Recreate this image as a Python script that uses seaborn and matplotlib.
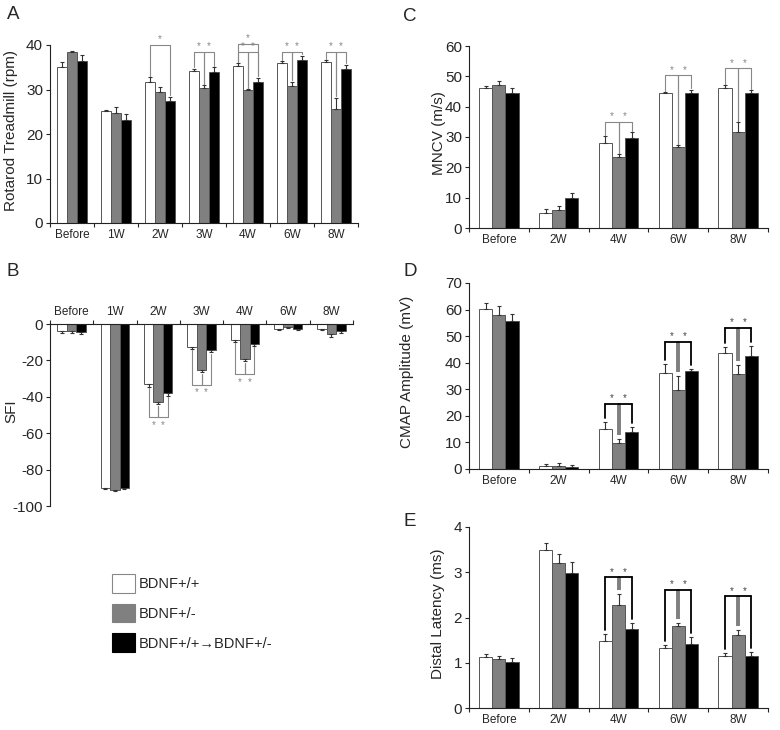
import pandas as pd
import seaborn as sns
import matplotlib.pyplot as plt
from matplotlib.patches import Patch

sns.set_style("ticks")
plt.rcParams["font.family"] = ["Liberation Sans", "DejaVu Sans"]
plt.rcParams["axes.unicode_minus"] = False

groups = ["BDNF+/+", "BDNF+/-", "BDNF+/+\u2192BDNF+/-"]
colors = ["white", "#808080", "black"]

# A - rotarod treadmill (rpm)
times_a = ["Before", "1W", "2W", "3W", "4W", "6W", "8W"]
rota_wt = [35.1, 25.1, 31.7, 34.1, 35.3, 35.9, 36.1]
rota_het = [38.4, 24.8, 29.4, 30.4, 29.8, 30.7, 25.7]
rota_tr = [36.4, 23.2, 27.4, 34.0, 31.6, 36.6, 34.6]
rota_wt_err = [1.0, 0.3, 1.1, 0.6, 0.6, 0.5, 0.5]
rota_het_err = [0.2, 1.3, 1.2, 0.5, 0.3, 1.0, 2.5]
rota_tr_err = [1.4, 1.2, 1.0, 1.0, 1.0, 1.0, 1.0]
sig_a = [("2W", 0, 2, 40.0), ("3W", 0, 1, 38.5), ("3W", 1, 2, 38.5),
         ("4W", 0, 1, 38.5), ("4W", 1, 2, 38.5), ("4W", 0, 2, 40.3),
         ("6W", 0, 1, 38.5), ("6W", 1, 2, 38.5),
         ("8W", 0, 1, 38.5), ("8W", 1, 2, 38.5)]

# B - sciatic functional index
sfi_wt = [-4.0, -90.0, -33.1, -12.5, -8.8, -2.5, -2.5]
sfi_het = [-4.0, -91.0, -42.7, -25.4, -19.5, -1.5, -5.5]
sfi_tr = [-4.5, -90.0, -37.8, -14.4, -10.9, -2.5, -4.0]
sfi_wt_err = [1.0, 0.8, 1.5, 1.0, 1.0, 0.8, 1.0]
sfi_het_err = [1.0, 0.8, 1.5, 1.0, 1.0, 0.8, 1.5]
sfi_tr_err = [1.0, 0.8, 1.5, 1.0, 1.0, 0.8, 1.0]
sig_b = [("2W", 0, 1, -51.2), ("2W", 1, 2, -51.2),
         ("3W", 0, 1, -33.3), ("3W", 1, 2, -33.3),
         ("4W", 0, 1, -27.6), ("4W", 1, 2, -27.6)]

# C - MNCV (m/s)
times_c = ["Before", "2W", "4W", "6W", "8W"]
mncv_wt = [46.2, 5.0, 28.1, 44.5, 46.1]
mncv_het = [47.0, 5.8, 23.3, 26.8, 31.6]
mncv_tr = [44.5, 10.0, 29.6, 44.5, 44.5]
mncv_wt_err = [0.5, 1.3, 2.2, 0.3, 1.0]
mncv_het_err = [1.4, 1.4, 1.0, 0.5, 3.3]
mncv_tr_err = [1.7, 1.5, 1.9, 1.0, 0.9]
sig_c = [("4W", 0, 1, 35.1), ("4W", 1, 2, 35.1),
         ("6W", 0, 1, 50.3), ("6W", 1, 2, 50.3),
         ("8W", 0, 1, 52.6), ("8W", 1, 2, 52.6)]

# D - CMAP amplitude (mV)
cmap_wt = [60.1, 1.0, 15.2, 36.3, 43.5]
cmap_het = [58.0, 1.2, 9.9, 29.7, 35.7]
cmap_tr = [55.8, 0.9, 13.8, 36.9, 42.7]
cmap_wt_err = [2.5, 0.8, 2.6, 3.1, 2.5]
cmap_het_err = [3.3, 0.9, 1.5, 5.4, 3.4]
cmap_tr_err = [2.5, 0.7, 2.1, 0.6, 3.6]
sig_d = [("4W", 0, 1, 24.5), ("4W", 1, 2, 24.5),
         ("6W", 0, 1, 47.9), ("6W", 1, 2, 47.9),
         ("8W", 0, 1, 53.2), ("8W", 1, 2, 53.2)]

# E - distal latency (ms)
lat_wt = [1.12, 3.49, 1.47, 1.33, 1.16]
lat_het = [1.09, 3.20, 2.28, 1.81, 1.62]
lat_tr = [1.01, 2.98, 1.74, 1.42, 1.16]
lat_wt_err = [0.07, 0.15, 0.17, 0.06, 0.06]
lat_het_err = [0.07, 0.20, 0.24, 0.07, 0.10]
lat_tr_err = [0.09, 0.24, 0.14, 0.15, 0.08]
sig_e = [("4W", 0, 1, 2.89), ("4W", 1, 2, 2.89),
         ("6W", 0, 1, 2.61), ("6W", 1, 2, 2.61),
         ("8W", 0, 1, 2.47), ("8W", 1, 2, 2.47)]


def panel(ax, times, means, errs, ylim, yticks, ylabel, label_x, sigs,
          heavy=False):
    df = pd.DataFrame({
        "time": times * 3,
        "value": means[0] + means[1] + means[2],
        "group": [g for g in groups for _ in times],
    })
    sns.barplot(data=df, x="time", y="value", hue="group", order=times,
                hue_order=groups, palette=colors, saturation=1, width=0.66,
                errorbar=None, edgecolor="#555555", linewidth=0.7,
                legend=False, ax=ax)
    neg = means[0][0] < 0
    bars = list(ax.containers)[:3]
    xs, tips = [], []
    for k, cont in enumerate(bars):
        x = [p.get_x() + p.get_width() / 2 for p in cont]
        zeros = [0] * len(times)
        yerr = [errs[k], zeros] if neg else [zeros, errs[k]]
        ax.errorbar(x, means[k], yerr=yerr, fmt="none", ecolor="#333333",
                    elinewidth=0.8, capsize=1.5, capthick=0.8)
        xs.append(x)
        tips.append([m - e if neg else m + e for m, e in zip(means[k], errs[k])])

    ax.set_ylim(*ylim)
    ax.set_yticks(yticks)
    ax.set_xlim(-0.5, len(times) - 0.5)
    ax.set_xticks([i - 0.5 for i in range(len(times) + 1)], minor=True)
    ax.tick_params(axis="x", which="major", length=0, labelsize=8.5, pad=4)
    ax.tick_params(axis="x", which="minor", length=3, width=0.8, direction="out")
    ax.tick_params(axis="y", length=3, width=0.8, labelsize=11, pad=2)
    ax.set_xlabel("")
    ax.set_ylabel(ylabel, fontsize=11)
    ax.yaxis.set_label_coords(label_x, 0.52)
    for s in ax.spines.values():
        s.set_linewidth(0.8)
        s.set_color("#222222")
    sns.despine(ax=ax, top=not neg, bottom=neg, right=True)

    # significance brackets
    h_px = ax.get_window_extent().height
    unit = (ylim[1] - ylim[0]) / h_px
    sgn = -1 if neg else 1
    gap = (4 if heavy else 1.5) * unit
    side_col = "black" if heavy else "#888888"
    lw = 1.3 if heavy else 0.8
    for t, i, j, lev in sigs:
        c = times.index(t)
        xi, xj = xs[i][c], xs[j][c]
        for b, x in ((i, xi), (j, xj)):
            y0 = tips[b][c] + sgn * gap
            if heavy and b == 1:
                ax.plot([x, x], [y0, lev], color="#808080", lw=2.6,
                        solid_capstyle="butt", clip_on=False, zorder=4)
            else:
                ax.plot([x, x], [y0, lev], color=side_col, lw=lw,
                        clip_on=False, zorder=5)
        ax.plot([xi, xj], [lev, lev], color=side_col, lw=lw,
                clip_on=False, zorder=5)
        ax.text((xi + xj) / 2, lev + sgn * 2.5 * unit, "*", ha="center",
                va="baseline" if not neg else "top", fontsize=7,
                color="#444444" if heavy else "#888888", clip_on=False)


fig = plt.figure(figsize=(7.8, 7.3), dpi=100)
W, H = 780, 730


def box(x0, x1, ytop, ybot):
    return [x0 / W, 1 - ybot / H, (x1 - x0) / W, (ybot - ytop) / H]


ax_a = fig.add_axes(box(50, 358, 45, 223))
ax_b = fig.add_axes(box(50, 353, 324, 506))
ax_c = fig.add_axes(box(469, 768, 46, 228))
ax_d = fig.add_axes(box(469, 768, 283, 469))
ax_e = fig.add_axes(box(469, 768, 527, 708))

panel(ax_a, times_a, [rota_wt, rota_het, rota_tr],
      [rota_wt_err, rota_het_err, rota_tr_err], (0, 40), range(0, 41, 10),
      "Rotarod Treadmill (rpm)", -0.104, sig_a)
panel(ax_b, times_a, [sfi_wt, sfi_het, sfi_tr],
      [sfi_wt_err, sfi_het_err, sfi_tr_err], (-100, 0), range(-100, 1, 20),
      "SFI", -0.106, sig_b)
ax_b.xaxis.tick_top()
ax_b.tick_params(axis="x", which="major", length=0, labelsize=8.5, pad=4)
ax_b.tick_params(axis="x", which="minor", length=3, width=0.8, direction="out")
panel(ax_c, times_c, [mncv_wt, mncv_het, mncv_tr],
      [mncv_wt_err, mncv_het_err, mncv_tr_err], (0, 60), range(0, 61, 10),
      "MNCV (m/s)", -0.077, sig_c)
panel(ax_d, times_c, [cmap_wt, cmap_het, cmap_tr],
      [cmap_wt_err, cmap_het_err, cmap_tr_err], (0, 70), range(0, 71, 10),
      "CMAP Amplitude (mV)", -0.184, sig_d, heavy=True)
panel(ax_e, times_c, [lat_wt, lat_het, lat_tr],
      [lat_wt_err, lat_het_err, lat_tr_err], (0, 4), range(0, 5),
      "Distal Latency (ms)", -0.08, sig_e, heavy=True)

for letter, x, y in [("A", 7, 6), ("B", 7, 263), ("C", 403, 8),
                     ("D", 403, 263), ("E", 403, 513)]:
    fig.text(x / W, 1 - y / H, letter, fontsize=13.5, va="top", ha="left")

handles = [Patch(facecolor=c, edgecolor="#888888" if c == "white" else c,
                 linewidth=0.8) for c in colors]
fig.legend(handles=handles, labels=groups, loc="upper left",
           bbox_to_anchor=(112 / W, 1 - 574 / H), frameon=False,
           fontsize=10.5, handlelength=1.6, handleheight=1.6,
           labelspacing=0.75, handletextpad=0.2, borderpad=0,
           borderaxespad=0)

fig.savefig("out.png", dpi=100)
